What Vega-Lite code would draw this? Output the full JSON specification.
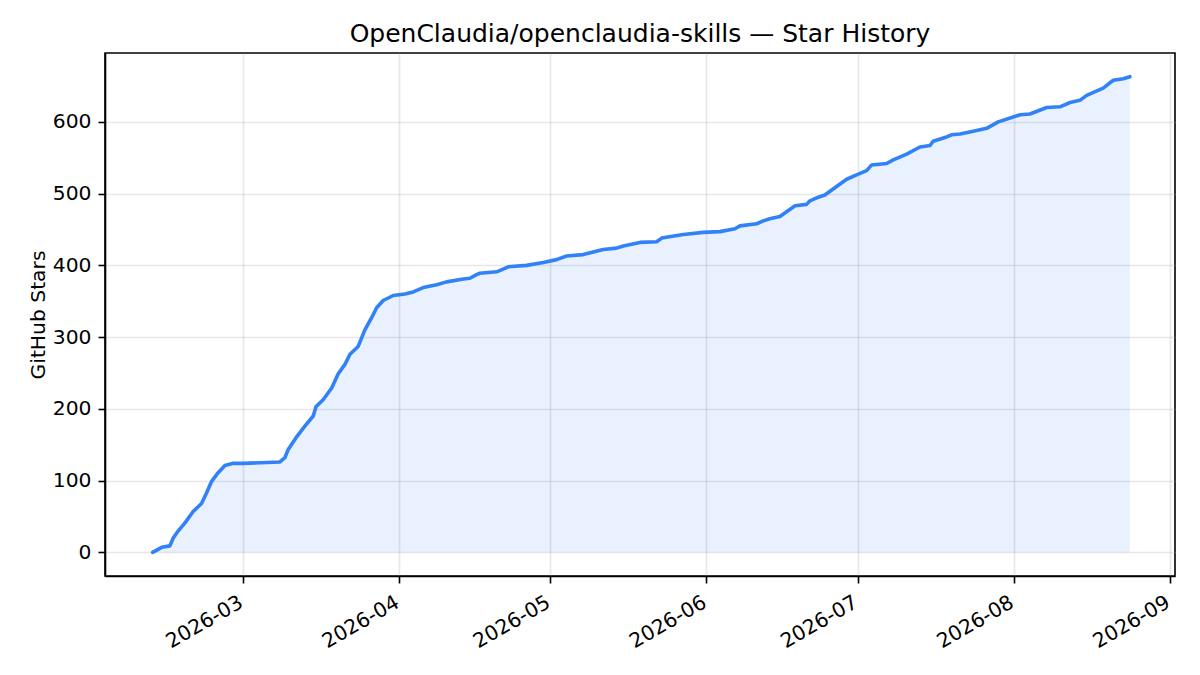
{
  "$schema": "https://vega.github.io/schema/vega-lite/v6.json",
  "autosize": "none",
  "width": 1070,
  "height": 523,
  "padding": {"left": 105, "top": 53, "right": 25, "bottom": 99},
  "background": "white",
  "title": {
    "text": "OpenClaudia/openclaudia-skills — Star History",
    "font": "DejaVu Sans",
    "fontSize": 25,
    "fontWeight": "normal",
    "color": "black",
    "offset": 6,
    "anchor": "middle"
  },
  "config": {
    "view": {"stroke": "black", "strokeWidth": 1.6},
    "axis": {
      "labelFont": "DejaVu Sans",
      "titleFont": "DejaVu Sans",
      "labelFontSize": 20.3,
      "titleFontSize": 20.3,
      "titleFontWeight": "normal",
      "labelColor": "black",
      "titleColor": "black",
      "domainColor": "black",
      "domainWidth": 1.6,
      "tickColor": "black",
      "tickWidth": 1.6,
      "tickSize": 7,
      "labelPadding": 7,
      "gridColor": "#b0b0b0",
      "gridOpacity": 0.3,
      "gridWidth": 1.6
    }
  },
  "data": {
    "values": [
      {"date": "2026-02-11T02:00", "stars": 0},
      {"date": "2026-02-12T21:00", "stars": 7},
      {"date": "2026-02-14T12:00", "stars": 9},
      {"date": "2026-02-15T04:00", "stars": 20},
      {"date": "2026-02-16T04:00", "stars": 30},
      {"date": "2026-02-17T12:00", "stars": 41},
      {"date": "2026-02-19T03:00", "stars": 57},
      {"date": "2026-02-20T19:00", "stars": 68},
      {"date": "2026-02-21T19:00", "stars": 83},
      {"date": "2026-02-22T19:00", "stars": 99},
      {"date": "2026-02-24T02:00", "stars": 111},
      {"date": "2026-02-25T10:00", "stars": 121},
      {"date": "2026-02-27T02:00", "stars": 124},
      {"date": "2026-03-01T01:00", "stars": 124},
      {"date": "2026-03-08T08:00", "stars": 126},
      {"date": "2026-03-09T08:00", "stars": 132},
      {"date": "2026-03-09T23:00", "stars": 143},
      {"date": "2026-03-11T16:00", "stars": 161},
      {"date": "2026-03-13T07:00", "stars": 176},
      {"date": "2026-03-14T23:00", "stars": 190},
      {"date": "2026-03-15T12:00", "stars": 203},
      {"date": "2026-03-16T23:00", "stars": 213},
      {"date": "2026-03-18T15:00", "stars": 229},
      {"date": "2026-03-19T22:00", "stars": 249},
      {"date": "2026-03-21T06:00", "stars": 262},
      {"date": "2026-03-22T06:00", "stars": 276},
      {"date": "2026-03-23T21:00", "stars": 287},
      {"date": "2026-03-25T05:00", "stars": 310},
      {"date": "2026-03-26T13:00", "stars": 327},
      {"date": "2026-03-27T13:00", "stars": 341},
      {"date": "2026-03-28T20:00", "stars": 351},
      {"date": "2026-03-30T20:00", "stars": 358},
      {"date": "2026-04-02T04:00", "stars": 360},
      {"date": "2026-04-03T19:00", "stars": 363},
      {"date": "2026-04-05T19:00", "stars": 369},
      {"date": "2026-04-08T11:00", "stars": 373},
      {"date": "2026-04-10T10:00", "stars": 377},
      {"date": "2026-04-13T18:00", "stars": 381},
      {"date": "2026-04-15T01:00", "stars": 382},
      {"date": "2026-04-16T09:00", "stars": 387},
      {"date": "2026-04-17T01:00", "stars": 389},
      {"date": "2026-04-20T09:00", "stars": 391},
      {"date": "2026-04-22T16:00", "stars": 398},
      {"date": "2026-04-26T07:00", "stars": 400},
      {"date": "2026-04-29T15:00", "stars": 404},
      {"date": "2026-05-02T06:00", "stars": 408},
      {"date": "2026-05-04T06:00", "stars": 413},
      {"date": "2026-05-07T13:00", "stars": 415},
      {"date": "2026-05-11T12:00", "stars": 422},
      {"date": "2026-05-14T04:00", "stars": 424},
      {"date": "2026-05-15T12:00", "stars": 427},
      {"date": "2026-05-18T19:00", "stars": 432},
      {"date": "2026-05-22T03:00", "stars": 433},
      {"date": "2026-05-23T03:00", "stars": 438},
      {"date": "2026-05-27T10:00", "stars": 443},
      {"date": "2026-05-31T09:00", "stars": 446},
      {"date": "2026-06-03T16:00", "stars": 447},
      {"date": "2026-06-06T16:00", "stars": 451},
      {"date": "2026-06-07T16:00", "stars": 455},
      {"date": "2026-06-10T23:00", "stars": 458},
      {"date": "2026-06-12T07:00", "stars": 462},
      {"date": "2026-06-13T14:00", "stars": 465},
      {"date": "2026-06-15T14:00", "stars": 468},
      {"date": "2026-06-18T14:00", "stars": 483},
      {"date": "2026-06-20T21:00", "stars": 485},
      {"date": "2026-06-21T13:00", "stars": 490},
      {"date": "2026-06-23T05:00", "stars": 495},
      {"date": "2026-06-24T12:00", "stars": 498},
      {"date": "2026-06-26T20:00", "stars": 510},
      {"date": "2026-06-28T20:00", "stars": 520},
      {"date": "2026-06-30T19:00", "stars": 526},
      {"date": "2026-07-02T19:00", "stars": 532},
      {"date": "2026-07-03T19:00", "stars": 540},
      {"date": "2026-07-06T18:00", "stars": 542},
      {"date": "2026-07-08T02:00", "stars": 547},
      {"date": "2026-07-10T18:00", "stars": 555},
      {"date": "2026-07-13T09:00", "stars": 565},
      {"date": "2026-07-15T09:00", "stars": 567},
      {"date": "2026-07-16T00:00", "stars": 573},
      {"date": "2026-07-18T16:00", "stars": 579},
      {"date": "2026-07-19T16:00", "stars": 582},
      {"date": "2026-07-21T08:00", "stars": 583},
      {"date": "2026-07-23T23:00", "stars": 587},
      {"date": "2026-07-26T15:00", "stars": 591},
      {"date": "2026-07-28T22:00", "stars": 600},
      {"date": "2026-07-31T14:00", "stars": 606},
      {"date": "2026-08-02T06:00", "stars": 610},
      {"date": "2026-08-04T05:00", "stars": 611},
      {"date": "2026-08-07T13:00", "stars": 620},
      {"date": "2026-08-10T04:00", "stars": 621},
      {"date": "2026-08-12T04:00", "stars": 627},
      {"date": "2026-08-14T03:00", "stars": 630},
      {"date": "2026-08-15T11:00", "stars": 637},
      {"date": "2026-08-18T18:00", "stars": 647},
      {"date": "2026-08-20T18:00", "stars": 658},
      {"date": "2026-08-22T18:00", "stars": 660},
      {"date": "2026-08-24T01:00", "stars": 663}
    ]
  },
  "encoding": {
    "x": {
      "field": "date",
      "type": "temporal",
      "title": null,
      "scale": {
        "domain": [
          {"year": 2026, "month": 2, "date": 1, "hours": 15},
          {"year": 2026, "month": 9, "date": 2, "hours": 0}
        ],
        "nice": false
      },
      "axis": {
        "values": [
          {"year": 2026, "month": 3, "date": 1},
          {"year": 2026, "month": 4, "date": 1},
          {"year": 2026, "month": 5, "date": 1},
          {"year": 2026, "month": 6, "date": 1},
          {"year": 2026, "month": 7, "date": 1},
          {"year": 2026, "month": 8, "date": 1},
          {"year": 2026, "month": 9, "date": 1}
        ],
        "format": "%Y-%m",
        "labelAngle": -30,
        "labelAlign": "right",
        "labelBaseline": "top",
        "labelPadding": 9,
        "labelOffset": -7,
        "grid": true
      }
    },
    "y": {
      "field": "stars",
      "type": "quantitative",
      "title": "GitHub Stars",
      "scale": {"domain": [-33, 696], "nice": false, "zero": false},
      "axis": {
        "values": [0, 100, 200, 300, 400, 500, 600],
        "grid": true,
        "titlePadding": 4
      }
    }
  },
  "layer": [
    {
      "mark": {"type": "area", "color": "#3b82f6", "opacity": 0.11},
      "encoding": {"y2": {"datum": 0}}
    },
    {
      "mark": {"type": "line", "color": "#3182f6", "strokeWidth": 3.6, "strokeJoin": "round", "strokeCap": "round"},
      "encoding": {}
    }
  ]
}
